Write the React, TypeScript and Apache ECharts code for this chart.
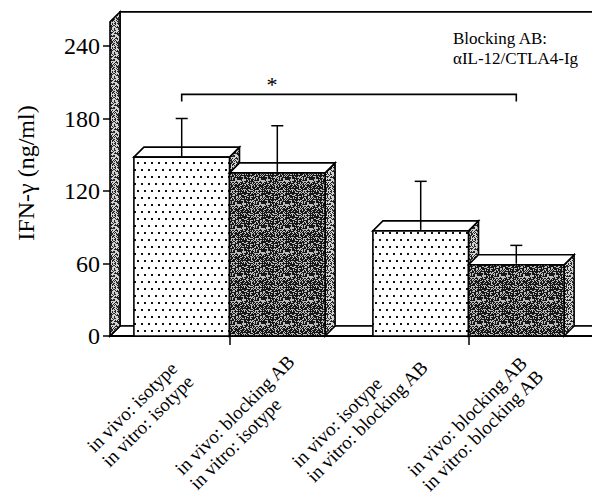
import React, { useEffect, useRef } from 'react';
import * as echarts from 'echarts';

// ---- data ----
const groups = ['in vitro: isotype', 'in vitro: blocking AB'];
const treatments = ['in vivo: isotype', 'in vivo: blocking AB'];
const isotypeMeans = [148, 87];
const isotypeErrors = [32, 41];
const blockingMeans = [135, 59];
const blockingErrors = [39, 16];
const yMin = 0;
const yMax = 240;
const yInterval = 60;
const wallTopValue = 260;
const bracketLevel = 200;
const bracketDropLevel = 194;
const starLevel = 208;
const starText = '*';
const yAxisTitle = 'IFN-γ (ng/ml)';
const blockingNote = ['Blocking AB:', 'αIL-12/CTLA4-Ig'];

// label placement nudges (pixels, relative to bar centre on the floor), [series][group]
const labelNudge = [
  [[1, 35], [-3, 20]],
  [[22, 29], [17, 29]],
];

const FONT = "'Liberation Serif', 'Times New Roman', Times, serif";
const DEPTH = 10;
const BAR_FRAC = 0.4;

function makeCanvas(w: number, h: number, draw: (ctx: CanvasRenderingContext2D) => void) {
  const c = document.createElement('canvas');
  c.width = w;
  c.height = h;
  const ctx = c.getContext('2d')!;
  draw(ctx);
  return c;
}

function hash(x: number, y: number) {
  let h = (x * 374761393 + y * 668265263) | 0;
  h = (h ^ (h >>> 13)) * 1274126177;
  h = h ^ (h >>> 16);
  return ((h >>> 0) % 1000) / 1000;
}

function ditherCanvas(size: number, pBlack: number, dark: string, light: string) {
  return makeCanvas(size, size, (ctx) => {
    for (let y = 0; y < size; y++) {
      for (let x = 0; x < size; x++) {
        ctx.fillStyle = hash(x, y) < pBlack ? dark : light;
        ctx.fillRect(x, y, 1, 1);
      }
    }
  });
}

function pattern(c: HTMLCanvasElement) {
  return { image: c, repeat: 'repeat', imageWidth: c.width, imageHeight: c.height } as any;
}

export default function App() {
  const ref = useRef<HTMLDivElement>(null);

  useEffect(() => {
    if (!ref.current) return;
    const chart = echarts.init(ref.current, undefined, { renderer: 'svg' });

    const dotsCanvas = makeCanvas(14, 14, (ctx) => {
      ctx.fillStyle = '#fff';
      ctx.fillRect(0, 0, 14, 14);
      ctx.fillStyle = '#111';
      [[1, 1], [8, 1], [4, 8], [11, 8]].forEach(([x, y]) => ctx.fillRect(x, y, 2, 2));
    });
    const dotsFill = pattern(dotsCanvas);
    const darkFill = pattern(ditherCanvas(24, 0.64, '#161616', '#bcbcbc'));
    const sideFill = pattern(ditherCanvas(24, 0.47, '#262626', '#d2d2d2'));

    const lineStyle = { stroke: '#000', lineWidth: 1.6 };

    const makeBarRender = (seriesIdx: number, faceFill: any) => (params: any, api: any) => {
      const cat = api.value(0);
      const val = api.value(1);
      const err = api.value(2);
      const base = api.coord([cat, 0]);
      const top = api.coord([cat, val]);
      const ye = api.coord([cat, val + err])[1];
      const w = api.size([1, 0])[0] * BAR_FRAC;
      const x0 = seriesIdx === 0 ? base[0] - w : base[0];
      const x1 = x0 + w;
      const yb = base[1];
      const yt = top[1];
      const d = DEPTH;
      const cx = (x0 + x1) / 2;
      const l1 = treatments[seriesIdx];
      const l2 = groups[cat];
      const nudge = labelNudge[seriesIdx][cat];
      return {
        type: 'group',
        children: [
          {
            type: 'polygon',
            shape: { points: [[x1, yb], [x1, yt], [x1 + d, yt - d], [x1 + d, yb - d]] },
            style: { fill: sideFill, ...lineStyle },
          },
          {
            type: 'polygon',
            shape: { points: [[x0, yt], [x0 + d, yt - d], [x1 + d, yt - d], [x1, yt]] },
            style: { fill: '#fff', ...lineStyle },
          },
          {
            type: 'rect',
            shape: { x: x0, y: yt, width: w, height: yb - yt },
            style: { fill: faceFill, ...lineStyle },
          },
          {
            type: 'line',
            shape: { x1: cx, y1: yt - 1, x2: cx, y2: ye },
            style: { stroke: '#000', lineWidth: 1.5 },
          },
          {
            type: 'line',
            shape: { x1: cx - 6, y1: ye, x2: cx + 6, y2: ye },
            style: { stroke: '#000', lineWidth: 1.5 },
          },
          {
            type: 'group',
            x: cx + nudge[0],
            y: yb + nudge[1],
            rotation: Math.PI / 4,
            children: [
              {
                type: 'text',
                x: 0,
                y: 0,
                style: {
                  text: `{a|${l1}}\n{a|${l2}}`,
                  rich: {
                    a: { align: 'left', fontSize: 19, fontFamily: FONT, fill: '#000', lineHeight: 21 },
                  },
                  align: 'right',
                  verticalAlign: 'middle',
                  fontSize: 19,
                  fontFamily: FONT,
                  fill: '#000',
                },
              },
            ],
          },
        ],
      };
    };

    const frameRender = (params: any, api: any) => {
      const cs = params.coordSys;
      const left = cs.x;
      const y0 = api.coord([0, 0])[1];
      const yTop = api.coord([0, wallTopValue])[1];
      const right = api.getWidth() + 30;
      const d = DEPTH;
      return {
        type: 'group',
        children: [
          {
            type: 'rect',
            shape: { x: left + d, y: yTop - d, width: right - left, height: y0 - yTop },
            style: { fill: '#fff', ...lineStyle },
          },
          {
            type: 'polygon',
            shape: { points: [[left, y0], [left + d, y0 - d], [right, y0 - d], [right, y0]] },
            style: { fill: '#fff', ...lineStyle },
          },
          {
            type: 'line',
            shape: { x1: left - 1, y1: y0, x2: right, y2: y0 },
            style: { stroke: '#000', lineWidth: 2 },
          },
          {
            type: 'polygon',
            shape: { points: [[left, y0], [left, yTop], [left + d, yTop - d], [left + d, y0 - d]] },
            style: { fill: sideFill, ...lineStyle },
          },
        ],
      };
    };

    const bracketRender = (params: any, api: any) => {
      const w = api.size([1, 0])[0] * BAR_FRAC;
      const xa = api.coord([0, bracketLevel])[0] - w / 2;
      const xb = api.coord([1, bracketLevel])[0] + w / 2;
      const yl = api.coord([0, bracketLevel])[1];
      const yd = api.coord([0, bracketDropLevel])[1];
      const ys = api.coord([0, starLevel])[1];
      return {
        type: 'group',
        children: [
          {
            type: 'polyline',
            shape: { points: [[xa, yd], [xa, yl], [xb, yl], [xb, yd]] },
            style: { stroke: '#000', lineWidth: 1.6, fill: null },
          },
          {
            type: 'text',
            x: xa + (xb - xa) * 0.27,
            y: ys,
            style: {
              text: starText,
              fontSize: 22,
              fontFamily: FONT,
              fill: '#000',
              align: 'center',
              verticalAlign: 'middle',
            },
          },
        ],
      };
    };

    chart.setOption({
      animation: false,
      backgroundColor: '#fff',
      grid: { left: 110, right: 4, top: 46, bottom: 161, containLabel: false, outerBoundsMode: 'none' } as any,
      xAxis: {
        type: 'category',
        data: groups,
        axisLine: { show: false },
        axisTick: { show: true, alignWithLabel: true, length: 9, lineStyle: { color: '#000', width: 1.5 } },
        axisLabel: { show: false },
        splitLine: { show: false },
      },
      yAxis: {
        type: 'value',
        min: yMin,
        max: yMax,
        interval: yInterval,
        axisLine: { show: false },
        axisTick: { show: true, length: 7, lineStyle: { color: '#000', width: 1.5 } },
        axisLabel: { fontSize: 24, fontFamily: FONT, color: '#000', margin: 10 },
        splitLine: { show: false },
        name: yAxisTitle,
        nameLocation: 'middle',
        nameGap: 72,
        nameTextStyle: { fontSize: 24, fontFamily: FONT, color: '#000', padding: [0, 0, 0, 36] },
      },
      graphic: [
        {
          type: 'text',
          left: 453,
          top: 28,
          z: 100,
          style: {
            text: blockingNote.join('\n'),
            fontSize: 17,
            lineHeight: 20,
            fontFamily: FONT,
            fill: '#000',
          },
        },
      ],
      series: [
        {
          type: 'custom',
          name: 'frame',
          renderItem: frameRender,
          data: [[0, 0]],
          silent: true,
        },
        {
          type: 'custom',
          name: treatments[0],
          renderItem: makeBarRender(0, dotsFill),
          encode: { x: 0, y: 1 },
          data: isotypeMeans.map((v, i) => [i, v, isotypeErrors[i]]),
        },
        {
          type: 'custom',
          name: treatments[1],
          renderItem: makeBarRender(1, darkFill),
          encode: { x: 0, y: 1 },
          data: blockingMeans.map((v, i) => [i, v, blockingErrors[i]]),
        },
        {
          type: 'custom',
          name: 'significance',
          renderItem: bracketRender,
          data: [[0, bracketLevel]],
          silent: true,
        },
      ],
    });

    return () => chart.dispose();
  }, []);

  return (
    <div
      ref={ref}
      style={{ position: 'fixed', left: 0, top: 0, width: 592, height: 497, background: '#fff' }}
    />
  );
}
